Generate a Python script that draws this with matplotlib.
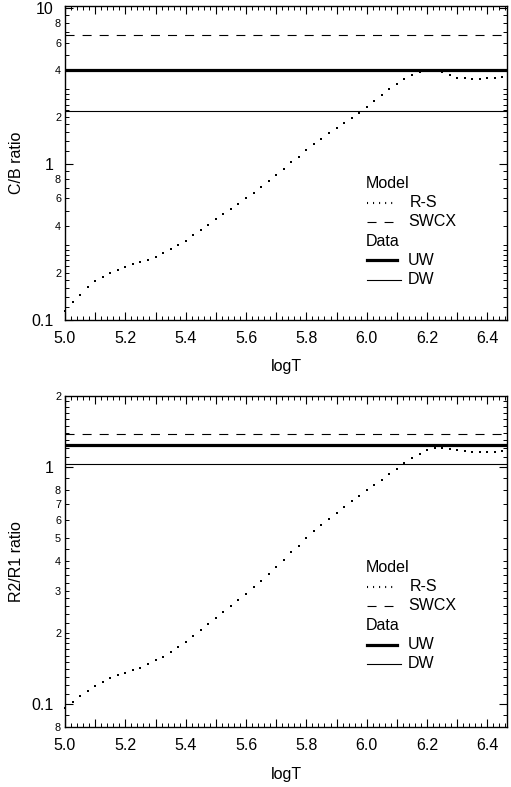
import matplotlib
matplotlib.use("Agg")
import matplotlib.pyplot as plt
from matplotlib.ticker import FixedLocator, FuncFormatter
from matplotlib.lines import Line2D

plt.rcParams['font.family'] = ['Liberation Sans', 'DejaVu Sans']
plt.rcParams['lines.scale_dashes'] = False

# ---------------- data ----------------
logT = [5.000, 5.025, 5.050, 5.075, 5.100, 5.125, 5.150, 5.175, 5.200, 5.225,
        5.250, 5.275, 5.300, 5.325, 5.350, 5.375, 5.400, 5.425, 5.450, 5.475,
        5.500, 5.525, 5.550, 5.575, 5.600, 5.625, 5.650, 5.675, 5.700, 5.725,
        5.750, 5.775, 5.800, 5.825, 5.850, 5.875, 5.900, 5.925, 5.950, 5.975,
        6.000, 6.025, 6.050, 6.075, 6.100, 6.125, 6.150, 6.175, 6.200, 6.225,
        6.250, 6.275, 6.300, 6.325, 6.350, 6.375, 6.400, 6.425, 6.450]

cb_rs = [0.113, 0.129, 0.144, 0.161, 0.176, 0.188, 0.200, 0.209, 0.218, 0.227,
         0.234, 0.243, 0.254, 0.267, 0.282, 0.301, 0.322, 0.347, 0.375, 0.407,
         0.440, 0.476, 0.512, 0.555, 0.600, 0.653, 0.710, 0.775, 0.847, 0.926,
         1.02, 1.11, 1.22, 1.335, 1.45, 1.57, 1.70, 1.83, 1.97, 2.13,
         2.32, 2.53, 2.75, 3.00, 3.24, 3.49, 3.72, 3.91, 3.94, 3.95,
         3.86, 3.72, 3.58, 3.53, 3.49, 3.51, 3.53, 3.56, 3.60]

r21_rs = [0.0962, 0.1016, 0.1084, 0.1138, 0.1195, 0.124, 0.128, 0.132, 0.135, 0.139,
          0.142, 0.147, 0.1526, 0.1583, 0.1651, 0.1733, 0.1826, 0.1931, 0.2048, 0.2177,
          0.2310, 0.2455, 0.2591, 0.2754, 0.2922, 0.3118, 0.3320, 0.3548, 0.3797, 0.4063,
          0.4365, 0.4663, 0.5010, 0.5353, 0.5709, 0.6057, 0.6427, 0.680, 0.719, 0.756,
          0.800, 0.842, 0.887, 0.934, 0.984, 1.04, 1.09, 1.14, 1.18, 1.20,
          1.20, 1.19, 1.18, 1.17, 1.16, 1.16, 1.16, 1.16, 1.17]

cb_swcx, cb_uw, cb_dw = 6.7, 4.0, 2.17
r21_swcx, r21_uw, r21_dw = 1.38, 1.24, 1.03

x_labels = ['5.0', '5.2', '5.4', '5.6', '5.8', '6.0', '6.2', '6.4']

top_major = [0.1, 1, 10]
top_major_lbl = ['0.1', '1', '10']
top_minor_lbl = {0.2: '2', 0.4: '4', 0.6: '6', 0.8: '8', 2: '2', 4: '4', 6: '6', 8: '8'}
top_minor_unl = [0.12, 0.14, 0.16, 0.18, 0.22, 0.24, 0.26, 0.28, 0.3, 0.5, 0.7, 0.9,
                 1.2, 1.4, 1.6, 1.8, 2.2, 2.4, 2.6, 2.8, 3, 5, 7, 9]

bot_major = [0.1, 1]
bot_major_lbl = ['0.1', '1']
bot_minor_lbl = {0.08: '8', 0.2: '2', 0.3: '3', 0.4: '4', 0.5: '5', 0.6: '6',
                 0.7: '7', 0.8: '8', 2: '2'}
bot_minor_unl = [0.09, 0.11, 0.12, 0.13, 0.14, 0.15, 0.16, 0.17, 0.18, 0.19,
                 0.22, 0.24, 0.26, 0.28, 0.325, 0.35, 0.375, 0.45, 0.9,
                 1.1, 1.2, 1.3, 1.4, 1.5, 1.6, 1.7, 1.8, 1.9]

FS = 11.5
W, H = 511, 787
fig = plt.figure(figsize=(W / 100, H / 100), dpi=100)

ax1 = fig.add_axes([65 / W, 1 - 320 / H, 442 / W, 314 / H])
ax2 = fig.add_axes([65 / W, 1 - 727 / H, 442 / W, 331 / H])

DASH = (0, (6.5, 5.8))


def setup(ax, ylim, major, major_lbl, minor_lbl, minor_unl, swcx, uw, dw, rs,
          rows):
    ax.set_yscale('log')
    ax.set_xlim(5.0, 6.465)
    ax.set_ylim(*ylim)
    ax.plot(logT, rs, linestyle='none', marker='s', markersize=1.7,
            color='black', markeredgewidth=0, clip_on=False)
    ax.axhline(swcx, color='black', lw=0.8, linestyle=DASH)
    ax.axhline(uw, color='black', lw=2.3)
    ax.axhline(dw, color='black', lw=0.8)

    # x ticks
    xmaj = [5.0 + 0.1 * i for i in range(15)]
    ax.xaxis.set_major_locator(FixedLocator(xmaj))
    ax.xaxis.set_minor_locator(FixedLocator([5.0 + 0.02 * i for i in range(74)]))
    ax.xaxis.set_major_formatter(FuncFormatter(
        lambda v, p: x_labels[int(round((v - 5.0) / 0.2))]
        if abs(round((v - 5.0) / 0.1)) % 2 == 0 else ''))
    ax.tick_params(axis='x', which='major', direction='in', length=5.5,
                   width=0.8, top=True, labelsize=FS, pad=8)
    ax.tick_params(axis='x', which='minor', direction='in', length=3,
                   width=0.7, top=True)

    # y ticks
    ax.yaxis.set_major_locator(FixedLocator(major))
    ax.yaxis.set_major_formatter(FuncFormatter(
        lambda v, p: major_lbl[min(range(len(major)), key=lambda i: abs(major[i] - v))]))
    minors = sorted(list(minor_lbl.keys()) + minor_unl)
    ax.yaxis.set_minor_locator(FixedLocator(minors))

    def mfmt(v, p):
        for k, s in minor_lbl.items():
            if abs(k - v) / k < 1e-6:
                return s
        return ''
    ax.yaxis.set_minor_formatter(FuncFormatter(mfmt))
    ax.tick_params(axis='y', which='major', direction='in', length=6,
                   width=0.8, right=True, labelsize=FS, pad=8.4)
    ax.tick_params(axis='y', which='minor', direction='in', length=3,
                   width=0.7, right=True, labelsize=7.8, pad=2.8)
    for s in ax.spines.values():
        s.set_linewidth(1.0)

    # legend (manual)
    x0, x1, xt, xh = 0.683, 0.751, 0.776, 0.681
    tr = ax.transAxes
    kw = dict(transform=tr, fontsize=FS, va='center', ha='left')
    ax.text(xh, rows[0], 'Model', **kw)
    ax.add_line(Line2D([x0, x1], [rows[1]] * 2, transform=tr, color='black',
                       lw=1.5, linestyle=(0, (0.75, 3.6))))
    ax.text(xt + 0.004, rows[1], 'R-S', **kw)
    ax.add_line(Line2D([x0, x1 - 0.01], [rows[2]] * 2, transform=tr,
                       color='black', lw=0.8, linestyle=DASH))
    ax.text(xt, rows[2], 'SWCX', **kw)
    ax.text(xh, rows[3], 'Data', **kw)
    ax.add_line(Line2D([x0, x1], [rows[4]] * 2, transform=tr, color='black',
                       lw=2.3))
    ax.text(xt, rows[4], 'UW', **kw)
    ax.add_line(Line2D([x0, x1 + 0.01], [rows[5]] * 2, transform=tr,
                       color='black', lw=0.8))
    ax.text(xt, rows[5], 'DW', **kw)


setup(ax1, (0.0995, 10.3), top_major, top_major_lbl, top_minor_lbl,
      top_minor_unl, cb_swcx, cb_uw, cb_dw, cb_rs,
      [0.4354, 0.3739, 0.3124, 0.2510, 0.1895, 0.1280])
setup(ax2, (0.0798, 2.0), bot_major, bot_major_lbl, bot_minor_lbl,
      bot_minor_unl, r21_swcx, r21_uw, r21_dw, r21_rs,
      [0.4825, 0.4242, 0.3659, 0.3076, 0.2492, 0.1909])

fig.text(16.7 / W, 1 - 163 / H, 'C/B ratio', rotation=90, ha='center',
         va='center', fontsize=FS)
fig.text(16.7 / W, 1 - 561.5 / H, 'R2/R1 ratio', rotation=90, ha='center',
         va='center', fontsize=FS)
fig.text(286 / W, 1 - 371 / H, 'logT', ha='center', va='baseline', fontsize=FS)
fig.text(286 / W, 1 - 778.5 / H, 'logT', ha='center', va='baseline', fontsize=FS)

fig.savefig('out.png', dpi=100)
